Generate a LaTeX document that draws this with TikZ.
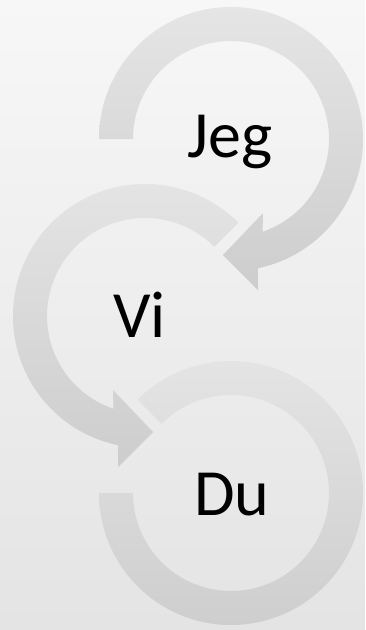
\documentclass[tikz,border=0pt]{standalone}
\usepackage{fontspec}
\setmainfont{Carlito}
\begin{document}
\begin{tikzpicture}[x=1pt,y=1pt,
  ring/.style={top color=ringtop,bottom color=ringbot,draw=none},
  word/.style={anchor=base,inner sep=0pt,font=\fontsize{66}{80}\selectfont,text=black}]
\definecolor{bgtop}{HTML}{F7F7F7}
\definecolor{bgbot}{HTML}{E4E4E4}
\definecolor{ringtop}{HTML}{E5E5E5}
\definecolor{ringbot}{HTML}{CDCDCD}
% background
\shade[top color=bgtop,bottom color=bgbot] (0,0) rectangle (365,-630);
\useasboundingbox (0,0) rectangle (365,-630);
% ring centres
\coordinate (c1) at (231,-139);
\coordinate (c2) at (145,-316);
\coordinate (c3) at (231,-493);
% upper arrow, clockwise from the left end
\path[ring] (c1) ++(180:132) arc[start angle=180,end angle=-78.2,radius=132]
  -- ([shift={(27,-151)}]c1) -- ([shift={(-8,-116)}]c1) -- ([shift={(32,-74)}]c1)
  -- ([shift={(-71.2:98)}]c1) arc[start angle=-71.2,end angle=180,radius=98] -- cycle;
% middle arrow, counter-clockwise from the upper right cut
\path[ring] (c2) ++(45:132) arc[start angle=45,end angle=258.2,radius=132]
  -- ([shift={(-27,-151)}]c2) -- ([shift={(8,-116)}]c2) -- ([shift={(-32,-74)}]c2)
  -- ([shift={(251.2:98)}]c2) arc[start angle=251.2,end angle=45,radius=98] -- cycle;
% lower ring, no head
\path[ring] (c3) ++(135:132) arc[start angle=135,end angle=-180,radius=132]
  -- ([shift={(180:98)}]c3) arc[start angle=-180,end angle=135,radius=98] -- cycle;
% labels
\node[word] (jeg) at (230,-157) {Jeg};
\node[word] (vi) at (139.5,-337) {Vi};
\node[word] (du) at (232,-515) {Du};
\end{tikzpicture}
\end{document}
